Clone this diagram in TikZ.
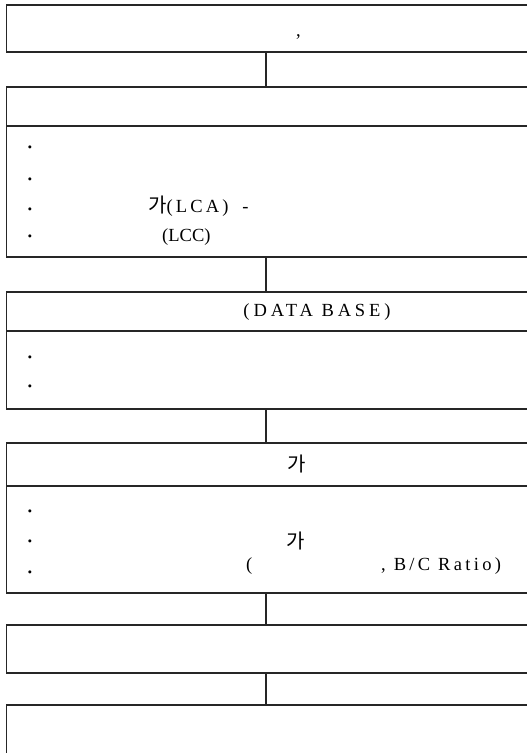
\documentclass[tikz,border=0pt]{standalone}
\usepackage{fontspec}
\setmainfont{Liberation Serif}
\newfontfamily\kor{Noto Sans CJK KR}
\usepackage{tikz}

\tikzset{
	box/.style={draw=black!85, line width=1.4pt, rectangle, anchor=north west, minimum width=560pt, inner sep=0pt, outer sep=0pt},
	link/.style={draw=black!85, line width=1.4pt},
	txt/.style={anchor=base west, inner sep=0pt, font=\fontsize{18.5}{18}\selectfont},
	dot/.style={anchor=base, inner sep=0pt, font=\fontsize{18.5}{18}\selectfont\bfseries},
	kr/.style={anchor=base, inner sep=0pt, font=\fontsize{20}{20}\selectfont\kor}
}
\newcommand{\spaced}[2]{{\addfontfeature{LetterSpace=#1}#2}}

\begin{document}
\begin{tikzpicture}[x=1pt, y=-1pt]
	\useasboundingbox (0,0) rectangle (527,753);
	\clip (0,0) rectangle (527,753);
	\fill[white] (0,0) rectangle (527,753);

	\coordinate (spine) at (266,0);

	\node[box, minimum height=47pt] (b1) at (6.5,5) {};
	\node[txt] (comma) at (296,36) {,};

	\node[box, minimum height=39pt] (h2) at (6.5,87) {};
	\node[box, minimum height=131pt] (d2) at (h2.south west) {};
	\node[dot] (d2a) at (30,153) {·};
	\node[dot] (d2b) at (30,185) {·};
	\node[dot] (d2c) at (30,215) {·};
	\node[dot] (d2d) at (30,242) {·};
	\node[txt] (lca) at (148,212) {{\kor\fontsize{20}{20}\selectfont 가}\spaced{17}{(LCA)}\hspace{14pt}-};
	\node[txt] (lcc) at (162,241) {(LCC)};

	\node[box, minimum height=39pt] (h3) at (6.5,292) {};
	\node[box, minimum height=78pt] (d3) at (h3.south west) {};
	\node[txt, anchor=base] (db) at (317,316) {\spaced{21}{(DATA BASE)}};
	\node[dot] (d3a) at (30,363) {·};
	\node[dot] (d3b) at (30,392) {·};

	\node[box, minimum height=43pt] (h4) at (6.5,443) {};
	\node[box, minimum height=107pt] (d4) at (h4.south west) {};
	\node[kr] (ga1) at (297,471) {가};
	\node[dot] (d4a) at (30,517) {·};
	\node[dot] (d4b) at (30,547) {·};
	\node[dot] (d4c) at (30,578) {·};
	\node[kr] (ga2) at (296,548) {가};
	\node[txt] (par) at (246,570) {(};
	\node[txt] (bc) at (381,570) {\spaced{18}{, B/C Ratio)}};

	\node[box, minimum height=48pt] (b5) at (6.5,625) {};
	\node[box, minimum height=70pt] (b6) at (6.5,705) {};

	\draw[link] (b1.south -| spine) -- (h2.north -| spine);
	\draw[link] (d2.south -| spine) -- (h3.north -| spine);
	\draw[link] (d3.south -| spine) -- (h4.north -| spine);
	\draw[link] (d4.south -| spine) -- (b5.north -| spine);
	\draw[link] (b5.south -| spine) -- (b6.north -| spine);

\end{tikzpicture}
\end{document}
